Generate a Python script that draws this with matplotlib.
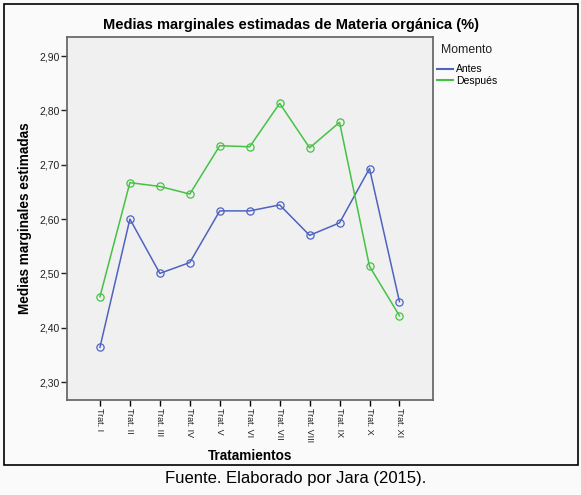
import matplotlib
matplotlib.use("Agg")
import matplotlib.pyplot as plt
from matplotlib.lines import Line2D
from matplotlib.patches import Rectangle
from matplotlib.ticker import FuncFormatter

plt.rcParams['font.family'] = ['Liberation Sans', 'DejaVu Sans']

tratamientos = ['Trat. I', 'Trat. II', 'Trat. III', 'Trat. IV', 'Trat. V', 'Trat. VI',
                'Trat. VII', 'Trat. VIII', 'Trat. IX', 'Trat. X', 'Trat. XI']
antes = [2.364, 2.600, 2.500, 2.520, 2.615, 2.615, 2.626, 2.570, 2.593, 2.693, 2.448]
despues = [2.457, 2.667, 2.660, 2.646, 2.735, 2.733, 2.813, 2.731, 2.778, 2.513, 2.422]
y_ticks = [2.30, 2.40, 2.50, 2.60, 2.70, 2.80, 2.90]

c_antes = '#4f63c0'
c_despues = '#45c245'

W, H = 581, 495
fig = plt.figure(figsize=(W / 100, H / 100), dpi=100)
fig.patch.set_facecolor('#fafafa')

# plot area in pixels: x 67..433, y 37..400
ax = fig.add_axes([67 / W, (H - 400) / H, 366 / W, 363 / H])
ax.set_facecolor('#f0f0f0')

x = list(range(len(tratamientos)))
ax.plot(x, antes, color=c_antes, lw=1.1, marker='o', ms=5.2, mfc='none',
        mec=c_antes, mew=0.9)
ax.plot(x, despues, color=c_despues, lw=1.1, marker='o', ms=5.2, mfc='none',
        mec=c_despues, mew=0.9)

ax.set_xlim(-1.1, 11.12)
ax.set_ylim(2.267, 2.935)
ax.set_yticks(y_ticks)
ax.yaxis.set_major_formatter(FuncFormatter(lambda v, p: ('%.2f' % v).replace('.', ',')))
ax.set_xticks(x)
ax.set_xticklabels(tratamientos, rotation=-90, fontsize=6.5, color='#222222')
ax.tick_params(axis='y', labelsize=7.5, colors='#222222', length=4, width=1, pad=1.5)
ax.tick_params(axis='x', length=4, width=1, pad=1.5)

for s in ax.spines.values():
    s.set_color('#6a6a6a')
    s.set_linewidth(1.3)

ax.set_ylabel('Medias marginales estimadas', fontsize=9.8, fontweight='bold', labelpad=5)
ax.set_xlabel('Tratamientos', fontsize=9.8, fontweight='bold', labelpad=5)

fig.text(291 / W, 1 - 25 / H, 'Medias marginales estimadas de Materia orgánica (%)',
         ha='center', va='center', fontsize=10.5, fontweight='bold')

# legend: title as separate text, entries as plain lines
fig.text(441 / W, 1 - 50 / H, 'Momento', ha='left', va='center', fontsize=8.8,
         color='#222222')
handles = [Line2D([], [], color=c_antes, lw=1.5), Line2D([], [], color=c_despues, lw=1.5)]
ax.legend(handles, ['Antes', 'Después'], loc='upper left', bbox_to_anchor=(1.01, 0.925),
          frameon=False, fontsize=7.5, borderpad=0, borderaxespad=0,
          handlelength=1.6, handletextpad=0.3, labelspacing=0.14)

fig.patches.append(Rectangle((4 / W, (H - 465) / H), 574 / W, 461 / H,
                             transform=fig.transFigure, fill=False,
                             edgecolor='black', lw=1.2))

fig.text(296 / W, 1 - 478 / H, 'Fuente. Elaborado por Jara (2015).',
         ha='center', va='center', fontsize=12)

fig.savefig('out.png', dpi=100, facecolor=fig.get_facecolor())
